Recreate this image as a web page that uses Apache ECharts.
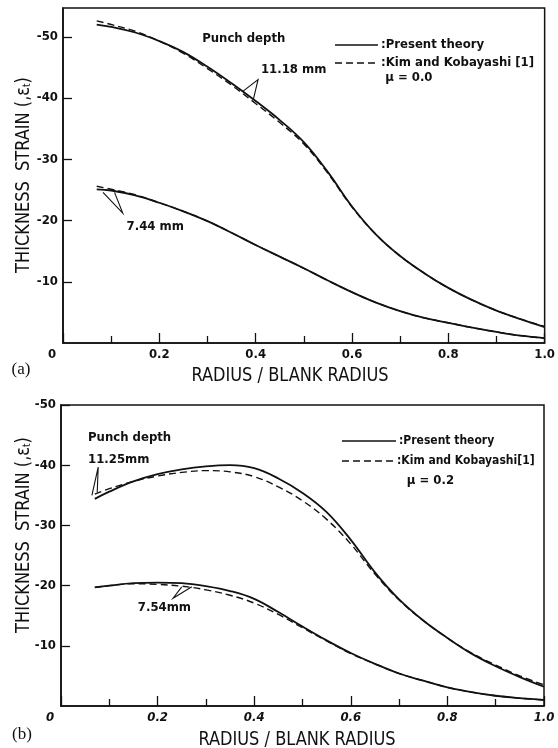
<!DOCTYPE html>
<html>
<head>
<meta charset="utf-8">
<script src="https://cdn.jsdelivr.net/npm/echarts@6/dist/echarts.min.js"></script>
<style>
html, body { margin: 0; padding: 0; background: #fff; }
#main { width: 558px; height: 748px; }
</style>
</head>
<body>
<div id="main"></div>
<script>
var chart = echarts.init(document.getElementById('main'));

// radius / blank radius
var radius = [0.07, 0.1, 0.15, 0.2, 0.25, 0.3, 0.35, 0.4, 0.45, 0.5, 0.55, 0.6, 0.65, 0.7, 0.75, 0.8, 0.85, 0.9, 0.95, 1.0];

// (a) mu = 0.0
var aPresent1118 = [-52.0, -51.6, -50.7, -49.3, -47.5, -45.1, -42.4, -39.5, -36.4, -32.8, -27.9, -22.3, -17.7, -14.2, -11.4, -9.0, -7.0, -5.3, -3.9, -2.6];
var aKim1118 = [-52.6, -52.0, -50.9, -49.3, -47.3, -44.8, -42.1, -39.1, -36.0, -32.5, -27.7, -22.2, -17.7, -14.2, -11.4, -9.0, -7.0, -5.3, -3.9, -2.7];
var aPresent744 = [-25.1, -24.9, -24.1, -22.9, -21.5, -19.9, -18.0, -16.0, -14.1, -12.2, -10.2, -8.3, -6.6, -5.2, -4.1, -3.3, -2.5, -1.8, -1.2, -0.8];
var aKim744 = [-25.6, -25.1, -24.2, -22.9, -21.5, -19.9, -18.0, -16.0, -14.1, -12.2, -10.2, -8.3, -6.6, -5.2, -4.1, -3.3, -2.5, -1.8, -1.2, -0.8];

// (b) mu = 0.2
var bPresent1125 = [-34.4, -35.6, -37.3, -38.5, -39.3, -39.8, -40.0, -39.5, -37.8, -35.4, -32.2, -27.6, -22.2, -17.7, -14.2, -11.3, -8.7, -6.6, -4.8, -3.2];
var bKim1125 = [-35.2, -36.1, -37.3, -38.2, -38.8, -39.1, -38.9, -38.1, -36.4, -34.1, -31.0, -26.9, -21.9, -17.6, -14.2, -11.3, -8.8, -6.8, -5.0, -3.5];
var bPresent754 = [-19.7, -20.0, -20.4, -20.5, -20.4, -19.9, -19.1, -17.8, -15.6, -13.2, -10.9, -8.8, -7.0, -5.4, -4.2, -3.1, -2.3, -1.7, -1.3, -1.0];
var bKim754 = [-19.7, -20.0, -20.3, -20.2, -19.9, -19.3, -18.4, -17.1, -15.2, -13.0, -10.8, -8.7, -7.0, -5.4, -4.2, -3.1, -2.3, -1.7, -1.3, -1.0];

var yTicks = [-50, -40, -30, -20, -10];
var xTicks = ['0', '0.2', '0.4', '0.6', '0.8', '1.0'];

var FONT = "'Liberation Sans Narrow', 'DejaVu Sans Condensed', 'Liberation Sans', sans-serif";
var INK = '#111';

function pts(ys) {
  return radius.map(function (x, i) { return [x, ys[i]]; });
}

function curve(name, ys, idx, dashed) {
  return {
    name: name,
    type: 'line',
    xAxisIndex: idx,
    yAxisIndex: idx,
    data: pts(ys),
    symbol: 'none',
    smooth: 0.4,
    color: INK,
    lineStyle: { color: INK, width: dashed ? 1.4 : 1.8, type: dashed ? [7, 4] : 'solid' },
    silent: true
  };
}

function xAxis(idx) {
  return {
    gridIndex: idx,
    type: 'value',
    min: 0,
    max: 1,
    interval: 0.2,
    splitLine: { show: false },
    axisLine: { lineStyle: { color: INK, width: 1.6 } },
    axisTick: { inside: true, length: 10, lineStyle: { color: INK, width: 1.3 } },
    minorTick: { show: true, splitNumber: 2, length: 7, lineStyle: { color: INK, width: 1.3 } },
    axisLabel: {
      margin: 5,
      color: INK,
      fontFamily: FONT,
      fontWeight: 'bold',
      fontSize: 13,
      fontStyle: idx === 1 ? 'italic' : 'normal',
      formatter: function (v) {
        var i = Math.round(v * 5);
        return i === 0 ? '{z|0}' : xTicks[i];
      },
      rich: { z: { padding: [0, 22, 0, 0], fontFamily: FONT, fontWeight: 'bold', fontSize: 13, color: INK } }
    }
  };
}

function yAxis(idx, min) {
  return {
    gridIndex: idx,
    type: 'value',
    min: min,
    max: 0,
    inverse: true,
    splitLine: { show: false },
    axisLine: { lineStyle: { color: INK, width: 1.6 } },
    axisTick: { inside: true, length: 9, customValues: yTicks, lineStyle: { color: INK, width: 1.3 } },
    axisLabel: {
      margin: 5,
      color: INK,
      fontFamily: FONT,
      fontWeight: 'bold',
      fontSize: 13,
      customValues: yTicks,
      formatter: function (v) { return String(v); }
    }
  };
}

var option = {
  backgroundColor: '#fff',
  animation: false,
  grid: [
    { left: 63, top: 8, right: 10, bottom: 405, show: true, borderColor: INK, borderWidth: 1.5 },
    { left: 61, top: 405, right: 14, bottom: 42, show: true, borderColor: INK, borderWidth: 1.5 }
  ],
  xAxis: [xAxis(0), xAxis(1)],
  yAxis: [yAxis(0, -54.7), yAxis(1, -50)],
  series: [
    curve('Present theory', aPresent1118, 0, false),
    curve('Kim and Kobayashi [1]', aKim1118, 0, true),
    curve('Present theory', aPresent744, 0, false),
    curve('Kim and Kobayashi [1]', aKim744, 0, true),
    curve('Present theory', bPresent1125, 1, false),
    curve('Kim and Kobayashi [1]', bKim1125, 1, true),
    curve('Present theory', bPresent754, 1, false),
    curve('Kim and Kobayashi [1]', bKim754, 1, true)
  ]
};

chart.setOption(option);

// annotations, anchored in data coordinates
var notes = [
  { grid: 0, text: 'Punch depth', at: [0.289, -49.7] },
  { grid: 0, text: '11.18 mm', at: [0.411, -44.6] },
  { grid: 0, text: '7.44 mm', at: [0.132, -19.0] },
  { grid: 1, text: 'Punch depth', at: [0.056, -44.5] },
  { grid: 1, text: '11.25mm', at: [0.056, -41.0] },
  { grid: 1, text: '7.54mm', at: [0.159, -16.3] },
  { grid: 0, text: 'μ = 0.0', at: [0.669, -43.4] },
  { grid: 1, text: 'μ = 0.2', at: [0.716, -37.5] }
];
var leaders = [
  [0, [[0.372, -41.0], [0.405, -43.0], [0.395, -39.7]]],
  [0, [[0.083, -24.6], [0.124, -21.2], [0.107, -24.6]]],
  [1, [[0.064, -35.0], [0.077, -39.7], [0.075, -35.5]]],
  [1, [[0.250, -19.8], [0.232, -17.9], [0.271, -19.8]]]
];
// hand-drawn legend: [x0, x1, y, dashed, label, font size]
var legendRows = [
  [335, 378, 45, false, ':Present theory', 13],
  [335, 378, 63, true, ':Kim and Kobayashi [1]', 13],
  [342, 396, 441, false, ':Present theory', 12],
  [342, 394, 461, true, ':Kim and Kobayashi[1]', 12]
];

var graphic = [];
notes.forEach(function (n) {
  var p = chart.convertToPixel({ gridIndex: n.grid }, n.at);
  graphic.push({
    type: 'text', x: p[0], y: p[1], silent: true,
    style: { text: n.text, fill: INK, font: 'bold 13px ' + FONT, textAlign: 'left', textVerticalAlign: 'middle' }
  });
});
leaders.forEach(function (l) {
  var line = l[1].map(function (d) { return chart.convertToPixel({ gridIndex: l[0] }, d); });
  graphic.push({
    type: 'polyline', silent: true,
    shape: { points: line },
    style: { stroke: INK, lineWidth: 1.1, fill: null }
  });
});
legendRows.forEach(function (r) {
  graphic.push({
    type: 'line', silent: true,
    shape: { x1: r[0], y1: r[2], x2: r[1], y2: r[2] },
    style: { stroke: INK, lineWidth: r[3] ? 1.3 : 1.5, lineDash: r[3] ? [7, 4] : null }
  });
  graphic.push({
    type: 'text', x: r[1] + 3, y: r[2], silent: true,
    style: { text: r[4], fill: INK, font: 'bold ' + r[5] + 'px ' + FONT, textAlign: 'left', textVerticalAlign: 'middle' }
  });
});

// axis titles and panel tags
[[175, 24], [535, 24]].forEach(function (c) {
  graphic.push({
    type: 'text', x: c[1], y: c[0], rotation: Math.PI / 2, scaleX: 0.9, silent: true,
    style: {
      text: 'THICKNESS  STRAIN (,ε{s|t})',
      fill: INK, font: '20px ' + FONT,
      textAlign: 'center', textVerticalAlign: 'middle',
      rich: { s: { fontSize: 11, fontFamily: FONT, padding: [7, 0, 0, 0] } }
    }
  });
});
[[290, 376], [297, 740]].forEach(function (c) {
  graphic.push({
    type: 'text', x: c[0], y: c[1], scaleX: 0.9, silent: true,
    style: { text: 'RADIUS / BLANK RADIUS', fill: INK, font: '20px ' + FONT, textAlign: 'center', textVerticalAlign: 'middle' }
  });
});
graphic.push({
  type: 'text', x: 21, y: 370, silent: true,
  style: { text: '(a)', fill: INK, font: '17px "Liberation Serif", "DejaVu Serif", serif', textAlign: 'center', textVerticalAlign: 'middle' }
});
graphic.push({
  type: 'text', x: 22, y: 735, silent: true,
  style: { text: '(b)', fill: INK, font: '17px "Liberation Serif", "DejaVu Serif", serif', textAlign: 'center', textVerticalAlign: 'middle' }
});

chart.setOption({ graphic: graphic });
</script>
</body>
</html>
